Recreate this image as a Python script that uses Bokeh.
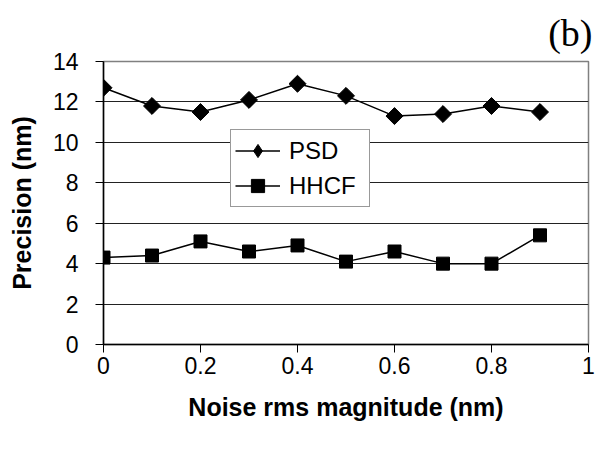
import numpy as np
from bokeh.plotting import figure
from bokeh.models import Range1d, Legend, LegendItem, FixedTicker
from bokeh.embed import file_html
from bokeh.resources import INLINE

# Precision of the two roughness estimators versus added noise
noise = [0.0, 0.1, 0.2, 0.3, 0.4, 0.5, 0.6, 0.7, 0.8, 0.9]
psd = [12.7, 11.8, 11.5, 12.1, 12.9, 12.3, 11.3, 11.4, 11.8, 11.5]
hhcf = [4.3, 4.4, 5.1, 4.6, 4.9, 4.1, 4.6, 4.0, 4.0, 5.4]

x_ticks = [0, 0.2, 0.4, 0.6, 0.8, 1.0]
y_ticks = [0, 2, 4, 6, 8, 10, 12, 14]

SANS = "Liberation Sans"
SERIF = "Liberation Serif"

p = figure(width=605, height=450, output_backend="svg", toolbar_location=None,
           x_range=Range1d(0, 1), y_range=Range1d(0, 14),
           min_border_left=103, min_border_right=17,
           min_border_top=61, min_border_bottom=106)
p.background_fill_color = "white"
p.border_fill_color = "white"
p.outline_line_color = "#808080"
p.outline_line_width = 1.5

# panel tag in the top right corner
p.title.text = "(b)"
p.title.text_font = SERIF
p.title.text_font_size = "38px"
p.title.text_font_style = "normal"
p.title.text_color = "black"
p.title.align = "right"
p.title.offset = -4
p.title.standoff = 15

p.xgrid.visible = False
p.ygrid.ticker = FixedTicker(ticks=y_ticks)
p.ygrid.grid_line_color = "#222222"
p.ygrid.grid_line_width = 1

for ax in (p.xaxis[0], p.yaxis[0]):
    ax.axis_line_color = "black"
    ax.axis_line_width = 1.5
    ax.major_tick_line_color = "black"
    ax.major_tick_line_width = 1
    ax.major_tick_in = 0
    ax.major_tick_out = 8
    ax.minor_tick_line_color = None
    ax.major_label_text_font = SANS
    ax.major_label_text_font_size = "23px"
    ax.major_label_text_color = "black"
    ax.axis_label_text_font = SANS
    ax.axis_label_text_font_style = "bold"
    ax.axis_label_text_font_size = "25px"
    ax.axis_label_text_color = "black"

p.xaxis.ticker = FixedTicker(ticks=x_ticks)
p.xaxis.major_label_overrides = {0: "0", 1.0: "1"}
p.xaxis.major_label_standoff = 4
p.xaxis.axis_label = "Noise rms magnitude (nm)"
p.xaxis.axis_label_standoff = 16

p.yaxis.ticker = FixedTicker(ticks=y_ticks)
p.yaxis.major_label_standoff = 17
p.yaxis.axis_label = "Precision (nm)"
p.yaxis.axis_label_standoff = 14

psd_line = p.line(noise, psd, line_color="black", line_width=1.5)
# narrow diamond kept inside the rotated square; it supplies the legend glyph
psd_key = p.scatter(noise, psd, marker="diamond", size=15,
                    fill_color="black", line_color="black")
psd_pts = p.scatter(noise, psd, marker="square", angle=np.pi / 4, size=12,
                    fill_color="black", line_color="black")
hhcf_line = p.line(noise, hhcf, line_color="black", line_width=1.5)
hhcf_pts = p.scatter(noise, hhcf, marker="square", size=13,
                     fill_color="black", line_color="black")

legend = Legend(items=[LegendItem(label="PSD", renderers=[psd_line, psd_key]),
                       LegendItem(label="HHCF", renderers=[hhcf_line, hhcf_pts])],
                location=(127, 137))
legend.label_text_font = SANS
legend.label_text_font_size = "24px"
legend.label_text_color = "black"
legend.glyph_width = 45
legend.glyph_height = 33
legend.label_height = 33
legend.label_width = 76
legend.label_standoff = 9
legend.spacing = 2
legend.padding = 4
legend.margin = 0
legend.border_line_color = "#333333"
legend.border_line_width = 1
legend.background_fill_color = "white"
legend.background_fill_alpha = 1.0
p.add_layout(legend, "center")

open("out.html", "w").write(file_html(p, INLINE))
